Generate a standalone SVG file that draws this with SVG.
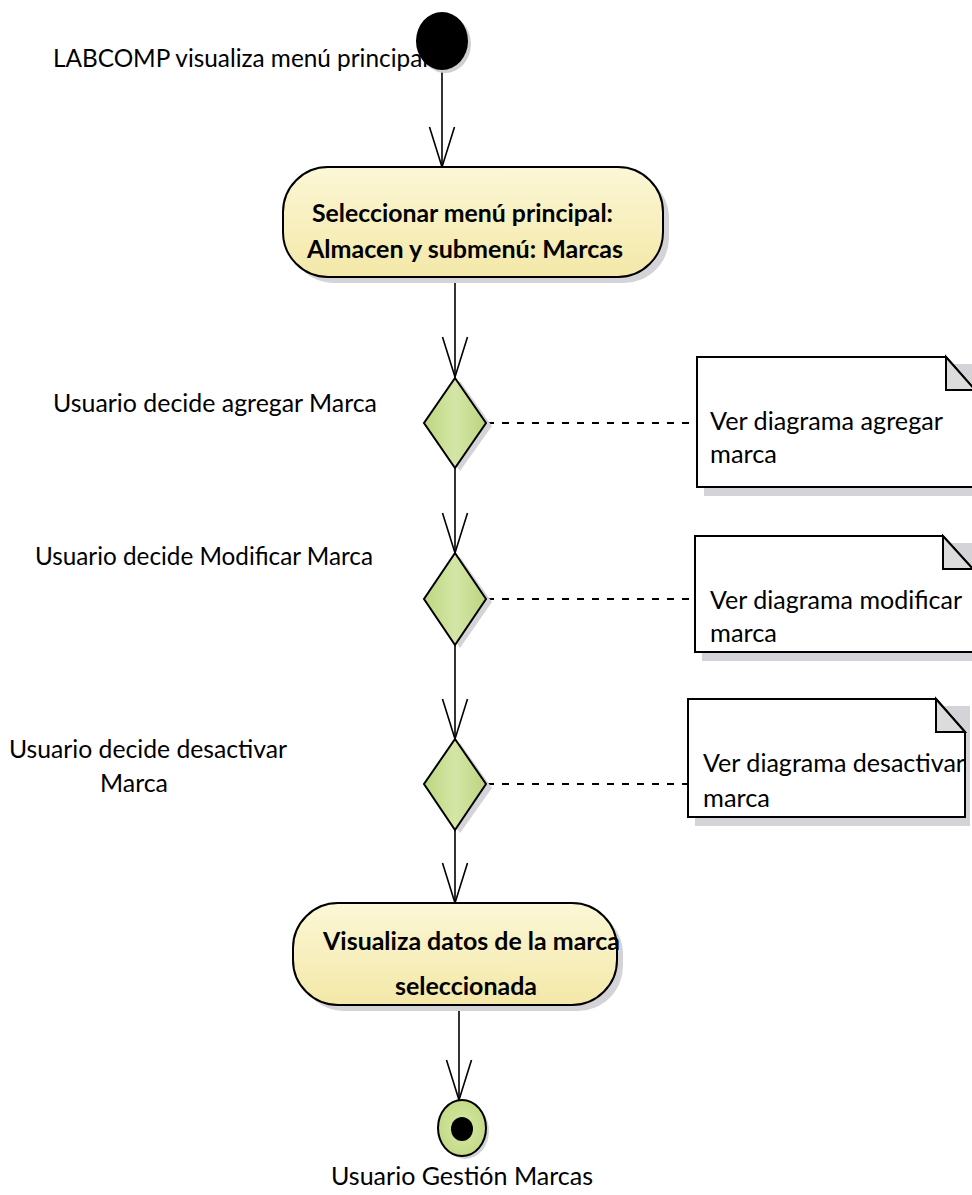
<svg xmlns="http://www.w3.org/2000/svg" width="972" height="1195" viewBox="0 0 972 1195">
<style>
.t{font-family:Lato,"Liberation Sans",sans-serif;font-size:25.5px;fill:#000}
.b{font-family:Lato,"Liberation Sans",sans-serif;font-size:25.5px;font-weight:bold;fill:#000}
.edge{stroke:#000;stroke-width:1.6;fill:none}
.dash{stroke:#000;stroke-width:1.8;fill:none;stroke-dasharray:7,8}
.act{fill:url(#gy);stroke:#000;stroke-width:2}
.dec{fill:url(#gg);stroke:#000;stroke-width:2}
.sh{fill:#d4d4d8}
.note{fill:#fff;stroke:#000;stroke-width:2}
.fold{fill:#dcdcdc;stroke:#000;stroke-width:2;stroke-linejoin:miter}
</style>
<defs>
<linearGradient id="gy" x1="0" y1="0" x2="0" y2="1">
<stop offset="0" stop-color="#fcf7d6"/>
<stop offset="1" stop-color="#f3e8a8"/>
</linearGradient>
<linearGradient id="gg" x1="0" y1="0" x2="1" y2="0">
<stop offset="0" stop-color="#bdd680"/>
<stop offset="0.5" stop-color="#d4e6a6"/>
<stop offset="1" stop-color="#bcd47f"/>
</linearGradient>
<radialGradient id="gf" cx="0.5" cy="0.5" r="0.5">
<stop offset="0" stop-color="#d9eaa8"/>
<stop offset="1" stop-color="#c3da86"/>
</radialGradient>
<marker id="arr" markerUnits="userSpaceOnUse" viewBox="-42 -14 44 28" markerWidth="44" markerHeight="28" refX="0" refY="0" orient="auto">
<path d="M-40,-12.5 L0,0 L-40,12.5" fill="none" stroke="#000" stroke-width="1.6"/>
</marker>
</defs>

<g id="connectors">
<line class="edge" x1="442" y1="70" x2="442" y2="167" marker-end="url(#arr)"/>
<line class="edge" x1="455" y1="277" x2="455" y2="377" marker-end="url(#arr)"/>
<line class="edge" x1="455" y1="468" x2="455" y2="553" marker-end="url(#arr)"/>
<line class="edge" x1="455" y1="645" x2="455" y2="739" marker-end="url(#arr)"/>
<line class="edge" x1="455" y1="830" x2="455" y2="903" marker-end="url(#arr)"/>
<line class="edge" x1="459" y1="1005" x2="459" y2="1100" marker-end="url(#arr)"/>
<line class="dash" x1="487" y1="423" x2="697" y2="423"/>
<line class="dash" x1="487" y1="599" x2="695" y2="599"/>
<line class="dash" x1="487" y1="784" x2="688" y2="784"/>
</g>

<g id="start">
<ellipse cx="445" cy="44" rx="26" ry="29" fill="#cfcfd3"/>
<ellipse cx="442" cy="41" rx="26" ry="29" fill="#000"/>
<text class="t" x="53" y="67" textLength="375" lengthAdjust="spacingAndGlyphs">LABCOMP visualiza menú principal</text>
</g>

<g id="action1">
<rect class="sh" x="289" y="173" width="380" height="110" rx="45"/>
<rect class="act" x="283" y="167" width="380" height="110" rx="45"/>
<text class="b" x="312" y="222" textLength="301" lengthAdjust="spacingAndGlyphs">Seleccionar menú principal:</text>
<text class="b" x="307" y="258" textLength="316" lengthAdjust="spacingAndGlyphs">Almacen y submenú: Marcas</text>
</g>

<g id="decision1">
<polygon class="sh" points="460,381 492,426 460,471 428,426"/>
<polygon class="dec" points="455,378 486,423 455,468 424,423"/>
<text class="t" x="53" y="412" textLength="324" lengthAdjust="spacingAndGlyphs">Usuario decide agregar Marca</text>
</g>

<g id="note1">
<rect class="sh" x="704" y="364" width="270" height="132"/>
<path class="note" d="M697,357 L946,357 L975,390 L975,487 L697,487 Z"/>
<path class="fold" d="M946,357 L946,390 L975,390 Z"/>
<text class="t" x="710" y="430" textLength="233" lengthAdjust="spacingAndGlyphs">Ver diagrama agregar</text>
<text class="t" x="710" y="463" textLength="67" lengthAdjust="spacingAndGlyphs">marca</text>
</g>

<g id="decision2">
<polygon class="sh" points="460,557 492,602 460,648 428,602"/>
<polygon class="dec" points="455,553 486,599 455,645 424,599"/>
<text class="t" x="35" y="565" textLength="338" lengthAdjust="spacingAndGlyphs">Usuario decide Modificar Marca</text>
</g>

<g id="note2">
<rect class="sh" x="702" y="543" width="272" height="118"/>
<path class="note" d="M695,536 L943,536 L973,569 L973,652 L695,652 Z"/>
<path class="fold" d="M943,536 L943,569 L973,569 Z"/>
<text class="t" x="710" y="609" textLength="252" lengthAdjust="spacingAndGlyphs">Ver diagrama modificar</text>
<text class="t" x="710" y="642" textLength="67" lengthAdjust="spacingAndGlyphs">marca</text>
</g>

<g id="decision3">
<polygon class="sh" points="460,743 492,788 460,833 428,788"/>
<polygon class="dec" points="455,739 486,784 455,830 424,784"/>
<text class="t" x="9" y="758" textLength="278" lengthAdjust="spacingAndGlyphs">Usuario decide desactivar</text>
<text class="t" x="100" y="792" textLength="68" lengthAdjust="spacingAndGlyphs">Marca</text>
</g>

<g id="note3">
<rect class="sh" x="695" y="706" width="275" height="120"/>
<path class="note" d="M688,699 L936,699 L965,732 L965,817 L688,817 Z"/>
<path class="fold" d="M936,699 L936,732 L965,732 Z"/>
<text class="t" x="703" y="772" textLength="262" lengthAdjust="spacingAndGlyphs">Ver diagrama desactivar</text>
<text class="t" x="703" y="807" textLength="67" lengthAdjust="spacingAndGlyphs">marca</text>
</g>

<g id="action2">
<rect class="sh" x="299" y="909" width="324" height="102" rx="45"/>
<rect class="act" x="293" y="903" width="324" height="102" rx="45"/>
<text class="b" x="323" y="950" textLength="297" lengthAdjust="spacingAndGlyphs">Visualiza datos de la marca</text>
<text class="b" x="395" y="995" textLength="142" lengthAdjust="spacingAndGlyphs">seleccionada</text>
</g>

<g id="final">
<ellipse cx="465" cy="1131" rx="24" ry="28" fill="#d4d4d8"/>
<ellipse cx="462" cy="1128" rx="24" ry="28" fill="url(#gf)" stroke="#000" stroke-width="2"/>
<ellipse cx="462" cy="1129" rx="11" ry="12" fill="#000"/>
<text class="t" x="462" y="1185" text-anchor="middle" textLength="262" lengthAdjust="spacingAndGlyphs">Usuario Gestión Marcas</text>
</g>
</svg>
